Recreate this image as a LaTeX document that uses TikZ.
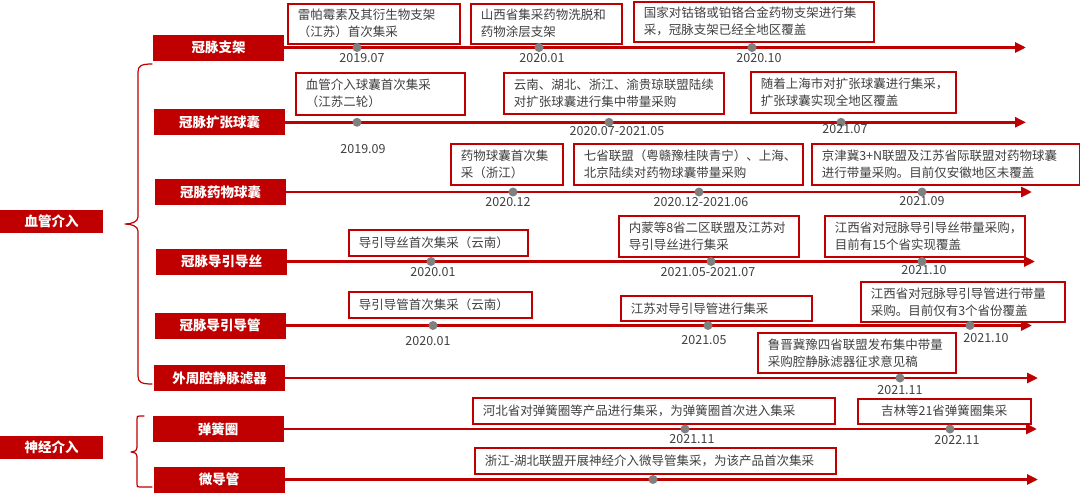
\documentclass[tikz,border=0pt]{standalone}
\usepackage{fontspec}
\setmainfont{Noto Sans CJK SC}
\usetikzlibrary{arrows.meta}
\definecolor{rd}{HTML}{C00000}
\definecolor{tx}{HTML}{404040}
\definecolor{dt}{HTML}{808080}
\begin{document}
\begin{tikzpicture}[x=1pt,y=-1pt,
 cat/.style={fill=rd,text=white,font=\fontsize{13.5}{16}\selectfont\bfseries,minimum width=131pt,minimum height=26pt,inner sep=0pt},
 grp/.style={cat,minimum width=103pt,minimum height=23pt},
 ev/.style={draw=rd,line width=1.5pt,fill=white,text=tx,font=\fontsize{12.5}{17}\selectfont,align=left,anchor=north west,inner xsep=10pt,inner ysep=0pt},
 tl/.style={draw=rd,line width=2.8pt,-{Triangle[length=11pt,width=10pt]}},
 dot/.style={circle,fill=dt,minimum size=9pt,inner sep=0pt},
 dlab/.style={text=tx,font=\fontsize{12.5}{15}\selectfont,inner sep=0pt},
 br/.style={draw=rd,line width=1.2pt,line join=round,line cap=round}
]
\useasboundingbox (0,0) rectangle (1080,498);

% group labels
\node[grp] (xg) at (51.5,221) {血管介入};
\node[grp] (sj) at (51.5,447.5) {神经介入};

% braces
\coordinate (b1t) at (152,64);
\coordinate (b1m) at (125,224);
\coordinate (b1b) at (152,384);
\draw[br] (b1t) .. controls (141,64) and (138,66) .. (138,72) -- (138,217)
  .. controls (138,222) and (131,224) .. (b1m)
  .. controls (131,224) and (138,226) .. (138,231) -- (138,376)
  .. controls (138,382) and (141,384) .. (b1b);
\coordinate (b2t) at (144,416);
\coordinate (b2m) at (131,452);
\coordinate (b2b) at (152,487);
\draw[br] (b2t) -- (140,416) .. controls (137,416) .. (137,419) -- (137,447)
  .. controls (137,451) and (134,452) .. (b2m)
  .. controls (134,452) and (137,453) .. (137,457) -- (137,484)
  .. controls (137,487) .. (140,487) -- (b2b);

% category boxes
\node[cat] (s1) at (218.5,47.5) {冠脉支架};
\node[cat] (s2) at (219.5,122.3) {冠脉扩张球囊};
\node[cat] (s3) at (220.5,192) {冠脉药物球囊};
\node[cat] (s4) at (221.5,261.5) {冠脉导引导丝};
\node[cat] (s5) at (220,325.5) {冠脉导引导管};
\node[cat] (s6) at (219.5,378) {外周腔静脉滤器};
\node[cat] (s7) at (218,429) {弹簧圈};
\node[cat] (s8) at (219,479.5) {微导管};

% timeline ends
\coordinate (e1) at (1026,47.5);
\coordinate (e2) at (1026,122.3);
\coordinate (e3) at (1032,192);
\coordinate (e4) at (1035,261.5);
\coordinate (e5) at (1032,325.5);
\coordinate (e6) at (1038,378);
\coordinate (e7) at (1037,429);
\coordinate (e8) at (1038,479.5);
\foreach \i in {1,...,8} \draw[tl] (s\i.east) -- (e\i);

% event boxes
\node[ev,text width=152pt,minimum height=40pt] (a11) at (287,3) {雷帕霉素及其衍生物支架\\（江苏）首次集采};
\node[ev,text width=131pt,minimum height=40pt] (a12) at (470,3) {山西省集采药物洗脱和\\药物涂层支架};
\node[ev,text width=220pt,minimum height=40pt] (a13) at (633,1) {国家对钴铬或铂铬合金药物支架进行集\\采，冠脉支架已经全地区覆盖};

\node[ev,text width=149pt,minimum height=42pt] (a21) at (295,72) {血管介入球囊首次集采\\（江苏二轮）};
\node[ev,text width=200pt,minimum height=41pt] (a22) at (503,72) {云南、湖北、浙江、渝贵琼联盟陆续\\对扩张球囊进行集中带量采购};
\node[ev,text width=185pt,minimum height=41pt] (a23) at (750,71) {随着上海市对扩张球囊进行集采，\\扩张球囊实现全地区覆盖};

\node[ev,text width=92pt,minimum height=41pt] (a31) at (450,143) {药物球囊首次集\\采（浙江）};
\node[ev,text width=209pt,minimum height=41pt] (a32) at (573,143) {七省联盟（粤赣豫桂陕青宁）、上海、\\北京陆续对药物球囊带量采购};
\node[ev,text width=248pt,minimum height=41pt] (a33) at (811,143) {京津冀3+N联盟及江苏省际联盟对药物球囊\\进行带量采购。目前仅安徽地区未覆盖};

\node[ev,text width=159pt,minimum height=26pt] (a41) at (348,229) {导引导丝首次集采（云南）};
\node[ev,text width=160pt,minimum height=41pt] (a42) at (618,215) {内蒙等8省二区联盟及江苏对\\导引导丝进行集采};
\node[ev,text width=180pt,minimum height=41pt] (a43) at (824,215) {江西省对冠脉导引导丝带量采购，\\目前有15个省实现覆盖};

\node[ev,text width=163pt,minimum height=26pt] (a51) at (348,291) {导引导管首次集采（云南）};
\node[ev,text width=171pt,minimum height=25pt] (a52) at (620,295) {江苏对导引导管进行集采};
\node[ev,text width=184pt,minimum height=40pt] (a53) at (860,281) {江西省对冠脉导引导管进行带量\\采购。目前仅有3个省份覆盖};

\node[ev,text width=178pt,minimum height=40pt] (a61) at (757,332) {鲁晋冀豫四省联盟发布集中带量\\采购腔静脉滤器征求意见稿};

\node[ev,text width=342pt,minimum height=26pt] (a71) at (472,397) {河北省对弹簧圈等产品进行集采，为弹簧圈首次进入集采};
\node[ev,text width=153pt,minimum height=25pt,align=center] (a72) at (857,398) {吉林等21省弹簧圈集采};

\node[ev,text width=341pt,minimum height=26pt] (a81) at (474,447) {浙江-湖北联盟开展神经介入微导管集采，为该产品首次集采};

% dots
\node[dot] (p11) at (357,47.5) {};
\node[dot] (p12) at (539,47.5) {};
\node[dot] (p13) at (752,47.5) {};
\node[dot] (p21) at (357,122.3) {};
\node[dot] (p22) at (609,122.3) {};
\node[dot] (p23) at (841,122.3) {};
\node[dot] (p31) at (513,192) {};
\node[dot] (p32) at (699,192) {};
\node[dot] (p33) at (922,192) {};
\node[dot] (p41) at (431,261.5) {};
\node[dot] (p42) at (711,261.5) {};
\node[dot] (p43) at (922,261.5) {};
\node[dot] (p51) at (433,325.5) {};
\node[dot] (p52) at (708,325.5) {};
\node[dot] (p53) at (970,325.5) {};
\node[dot] (p61) at (900,378) {};
\node[dot] (p71) at (685,429) {};
\node[dot] (p72) at (950,429) {};
\node[dot] (p81) at (653,479.5) {};

% dates
\node[dlab] (t11) at (362,58) {2019.07};
\node[dlab] (t12) at (542,58) {2020.01};
\node[dlab] (t13) at (759,58) {2020.10};
\node[dlab] (t21) at (363,149) {2019.09};
\node[dlab] (t22) at (617,131) {2020.07-2021.05};
\node[dlab] (t23) at (845,129) {2021.07};
\node[dlab] (t31) at (508,202) {2020.12};
\node[dlab] (t32) at (701,202) {2020.12-2021.06};
\node[dlab] (t33) at (922,201) {2021.09};
\node[dlab] (t41) at (433,272) {2020.01};
\node[dlab] (t42) at (708,272) {2021.05-2021.07};
\node[dlab] (t43) at (924,270) {2021.10};
\node[dlab] (t51) at (428,341) {2020.01};
\node[dlab] (t52) at (704,340) {2021.05};
\node[dlab] (t53) at (986,338) {2021.10};
\node[dlab] (t61) at (900,390) {2021.11};
\node[dlab] (t71) at (692,439) {2021.11};
\node[dlab] (t72) at (957,440) {2022.11};
\end{tikzpicture}
\end{document}
